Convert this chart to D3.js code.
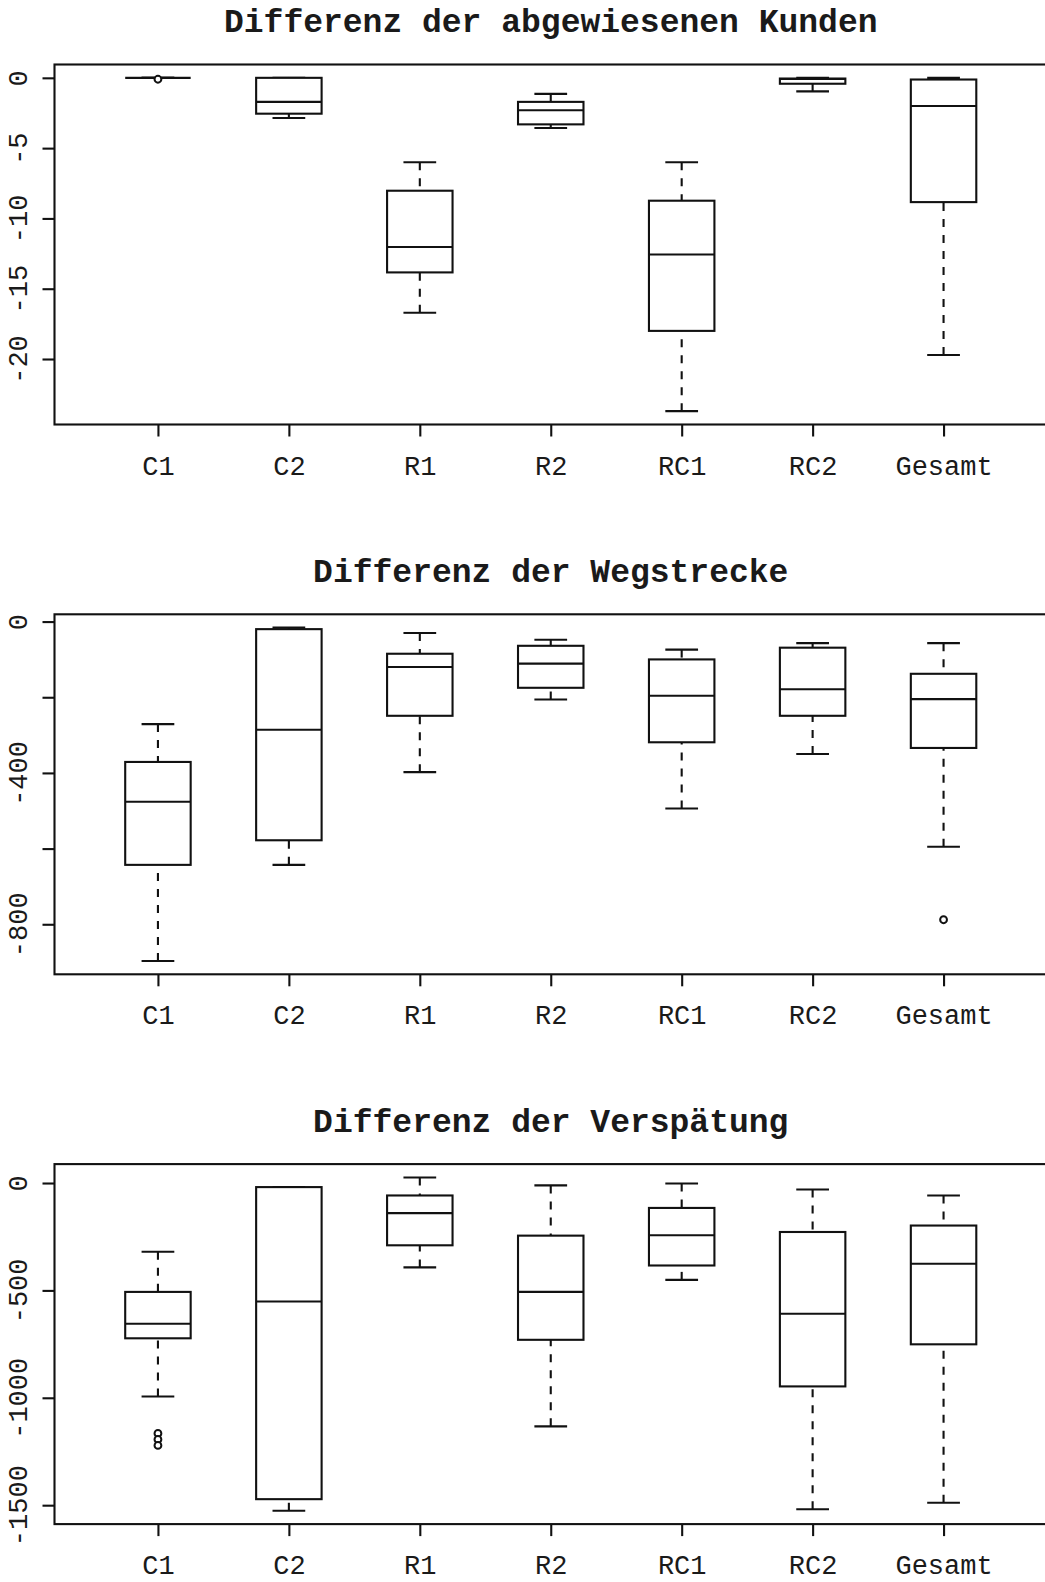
<!DOCTYPE html>
<html>
<head>
<meta charset="utf-8">
<script src="https://cdn.jsdelivr.net/npm/d3@7"></script>
<style>
  html, body { margin: 0; padding: 0; background: #fff; }
  svg { display: block; }
  text { font-family: "Liberation Mono", "Courier New", monospace; fill: #1a1a1a; }
</style>
</head>
<body>
<svg id="chart" width="1045" height="1582"></svg>
<script>
// Groups shown on every panel
const categories = ["C1", "C2", "R1", "R2", "RC1", "RC2", "Gesamt"];

// Panel 1: Differenz der abgewiesenen Kunden (five-number summaries per group)
const kundenMax = [0, 0, -6.0, -1.14, -6.0, 0, 0];
const kundenQ3  = [0, 0, -8.03, -1.71, -8.74, -0.05, -0.12];
const kundenMed = [0, -1.71, -12.03, -2.31, -12.57, -0.08, -2.0];
const kundenQ1  = [0, -2.55, -13.84, -3.31, -18.0, -0.42, -8.84];
const kundenMin = [0, -2.86, -16.71, -3.57, -23.71, -0.96, -19.71];
const kundenOut = [["C1", -0.1]];
const kundenTicks  = [0, -5, -10, -15, -20];
const kundenLabels = ["0", "-5", "-10", "-15", "-20"];

// Panel 2: Differenz der Wegstrecke
const wegMax = [-271, -16, -30, -48, -74, -57, -57];
const wegQ3  = [-371, -20, -85, -64, -100, -69, -138];
const wegMed = [-476, -286, -120, -111, -196, -179, -205];
const wegQ1  = [-643, -578, -249, -175, -319, -249, -334];
const wegMin = [-897, -643, -398, -206, -494, -350, -595];
const wegOut = [["Gesamt", -788]];
const wegTicks  = [0, -200, -400, -600, -800];
const wegLabels = ["0", "", "-400", "", "-800"];

// Panel 3: Differenz der Verspätung
const verspMax = [-320, -19, 26, -11, -2, -30, -58];
const verspQ3  = [-507, -19, -58, -245, -116, -228, -198];
const verspMed = [-655, -552, -140, -507, -243, -609, -376];
const verspQ1  = [-723, -1472, -290, -730, -384, -947, -751];
const verspMin = [-994, -1526, -393, -1133, -451, -1519, -1489];
const verspOut = [["C1", -1166], ["C1", -1194], ["C1", -1222]];
const verspTicks  = [0, -500, -1000, -1500];
const verspLabels = ["0", "-500", "-1000", "-1500"];

const titles = [
  "Differenz der abgewiesenen Kunden",
  "Differenz der Wegstrecke",
  "Differenz der Verspätung"
];

const panels = [
  { title: titles[0], max: kundenMax, q3: kundenQ3, med: kundenMed, q1: kundenQ1, min: kundenMin, out: kundenOut, ticks: kundenTicks, labels: kundenLabels },
  { title: titles[1], max: wegMax, q3: wegQ3, med: wegMed, q1: wegQ1, min: wegMin, out: wegOut, ticks: wegTicks, labels: wegLabels },
  { title: titles[2], max: verspMax, q3: verspQ3, med: verspMed, q1: verspQ1, min: verspMin, out: verspOut, ticks: verspTicks, labels: verspLabels }
];

const svg = d3.select("#chart");
const ink = "#111";
const lw = 2.1;
const plotLeft = 54.5, plotRight = 1047;
const plotHeight = 360;
const panelStep = 549.8;
const firstTop = 64.5;

// Group positions: range 0.5..n+0.5 padded by 4%
const x = d3.scaleLinear().domain([0.21, 7.79]).range([plotLeft, plotRight]);
const boxHalf = 0.25, stapleHalf = 0.125;

panels.forEach((p, pi) => {
  const top = firstTop + pi * panelStep;
  const bottom = top + plotHeight;

  const allVals = p.max.concat(p.min, p.out.map(o => o[1]));
  const lo = d3.min(allVals), hi = d3.max(allVals);
  const pad = (hi - lo) * 0.04;
  const y = d3.scaleLinear().domain([lo - pad, hi + pad]).range([bottom, top]);

  const g = svg.append("g");

  // Title
  g.append("text")
    .attr("x", x(4))
    .attr("y", top - 32.5)
    .attr("text-anchor", "middle")
    .style("font-size", "33px")
    .style("font-weight", "bold")
    .text(p.title);

  // Y axis with rotated labels
  const yAxis = g.append("g")
    .attr("transform", `translate(${plotLeft},0)`)
    .call(d3.axisLeft(y).tickValues(p.ticks).tickSize(12).tickFormat((d, i) => p.labels[i]));
  yAxis.select(".domain").remove();
  yAxis.selectAll(".tick line").attr("stroke", ink).attr("stroke-width", lw);
  yAxis.selectAll(".tick text")
    .attr("transform", "rotate(-90)")
    .attr("x", 0).attr("y", -27.5).attr("dy", 0)
    .attr("text-anchor", "middle")
    .attr("fill", "#1a1a1a")
    .style("font-size", "27px")
    .style("font-family", "'Liberation Mono', monospace");

  // X axis
  const xAxis = g.append("g")
    .attr("transform", `translate(0,${bottom})`)
    .call(d3.axisBottom(x).tickValues(d3.range(1, categories.length + 1)).tickSize(12)
      .tickFormat(d => categories[d - 1]));
  xAxis.select(".domain").remove();
  xAxis.selectAll(".tick line").attr("stroke", ink).attr("stroke-width", lw);
  xAxis.selectAll(".tick text")
    .attr("y", 50).attr("dy", 0)
    .attr("fill", "#1a1a1a")
    .style("font-size", "27px")
    .style("font-family", "'Liberation Mono', monospace");

  // Boxes
  const data = categories.map((c, i) => ({
    c, pos: i + 1, max: p.max[i], q3: p.q3[i], med: p.med[i], q1: p.q1[i], min: p.min[i]
  }));

  const b = g.append("g").attr("stroke", ink).attr("stroke-width", lw).attr("fill", "none");
  const groups = b.selectAll("g.box").data(data).join("g").attr("class", "box");

  // whiskers drawn from the extremes towards the hinges
  groups.append("line")
    .attr("x1", d => x(d.pos)).attr("x2", d => x(d.pos))
    .attr("y1", d => y(d.max)).attr("y2", d => y(d.q3))
    .attr("stroke-dasharray", "8,8");
  groups.append("line")
    .attr("x1", d => x(d.pos)).attr("x2", d => x(d.pos))
    .attr("y1", d => y(d.min)).attr("y2", d => y(d.q1))
    .attr("stroke-dasharray", "8,8");
  // staples
  groups.append("line")
    .attr("x1", d => x(d.pos - stapleHalf)).attr("x2", d => x(d.pos + stapleHalf))
    .attr("y1", d => y(d.max)).attr("y2", d => y(d.max));
  groups.append("line")
    .attr("x1", d => x(d.pos - stapleHalf)).attr("x2", d => x(d.pos + stapleHalf))
    .attr("y1", d => y(d.min)).attr("y2", d => y(d.min));
  // box
  groups.append("rect")
    .attr("x", d => x(d.pos - boxHalf))
    .attr("width", d => x(d.pos + boxHalf) - x(d.pos - boxHalf))
    .attr("y", d => y(d.q3))
    .attr("height", d => y(d.q1) - y(d.q3))
    .attr("fill", "#fff");
  // median
  groups.append("line")
    .attr("x1", d => x(d.pos - boxHalf)).attr("x2", d => x(d.pos + boxHalf))
    .attr("y1", d => y(d.med)).attr("y2", d => y(d.med));

  // outliers
  b.selectAll("circle").data(p.out).join("circle")
    .attr("cx", d => x(categories.indexOf(d[0]) + 1))
    .attr("cy", d => y(d[1]))
    .attr("r", 3.4)
    .attr("stroke-width", 2)
    .attr("fill", "#fff");

  // plot frame (right side runs past the canvas edge)
  g.append("rect")
    .attr("x", plotLeft).attr("y", top)
    .attr("width", plotRight - plotLeft).attr("height", plotHeight)
    .attr("fill", "none").attr("stroke", ink).attr("stroke-width", lw);
});
</script>
</body>
</html>
